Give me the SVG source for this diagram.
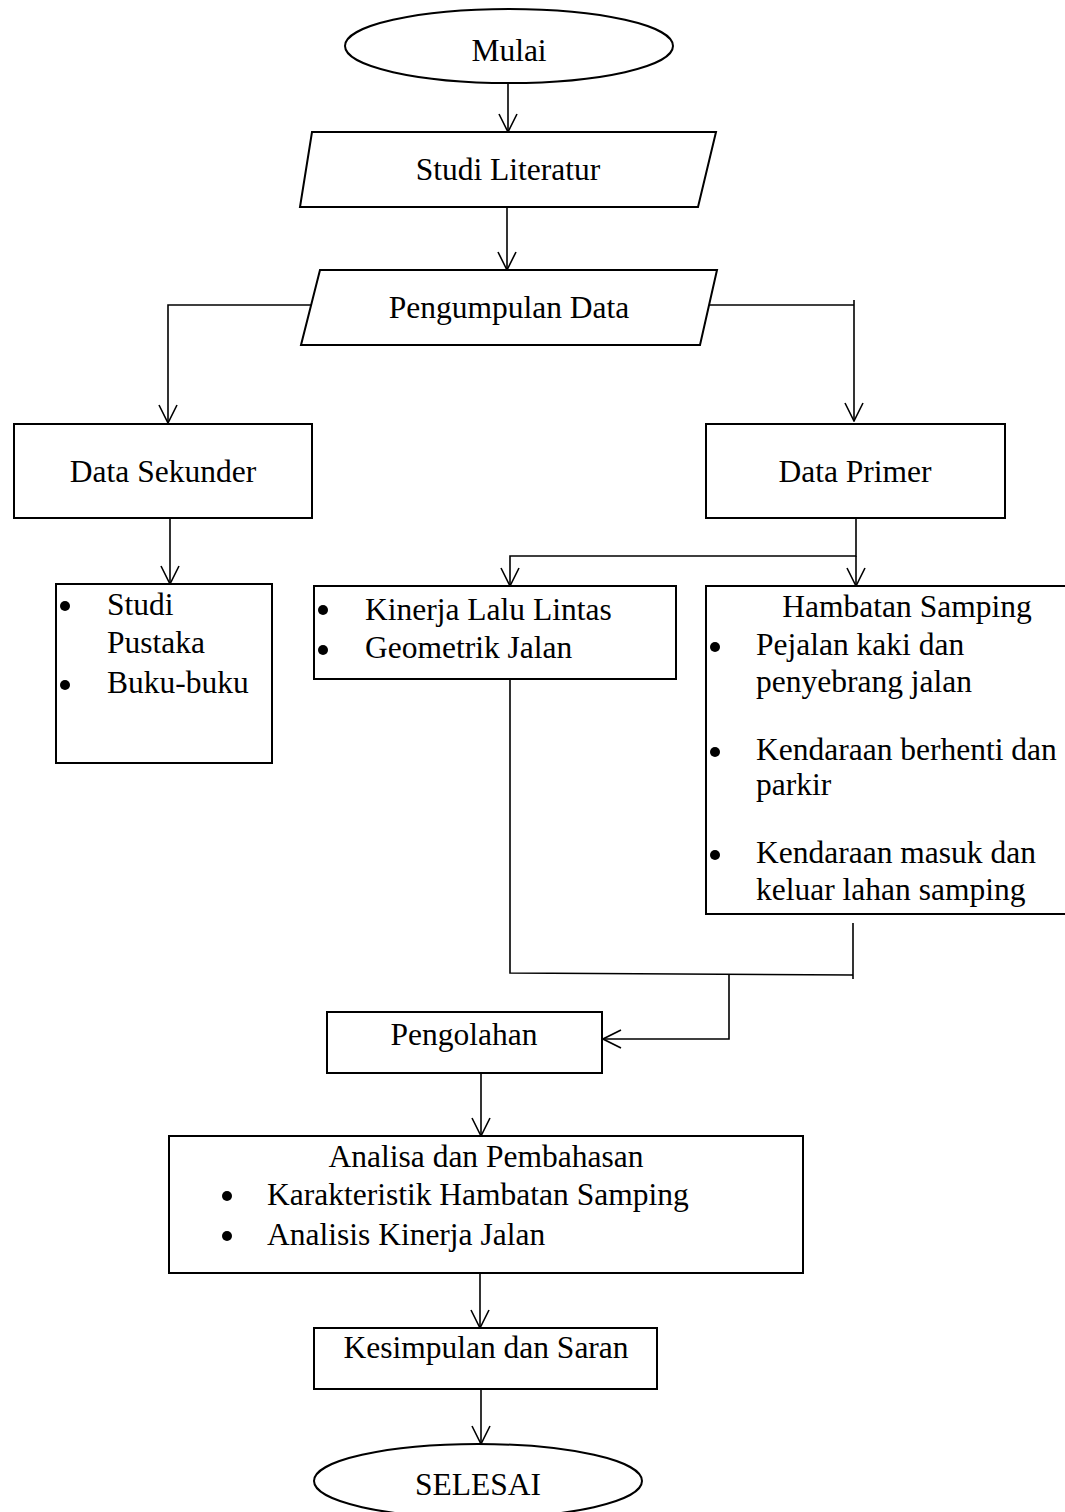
<svg xmlns="http://www.w3.org/2000/svg" width="1065" height="1512" viewBox="0 0 1065 1512">
<style>
.shape{fill:#fff;stroke:#000;stroke-width:2}
.c{fill:none;stroke:#000;stroke-width:1.6}
text{font-family:"Liberation Serif","Times New Roman",serif;font-size:31.5px;fill:#000}
.m{text-anchor:middle}
.b{fill:#000}
</style>
<defs>
<marker id="arr" viewBox="0 0 20 20" refX="19" refY="10" markerWidth="20" markerHeight="20" orient="auto" markerUnits="userSpaceOnUse">
<path d="M1,1 L19,10 L1,19" fill="none" stroke="#000" stroke-width="1.6"/>
</marker>
</defs>
<rect width="1065" height="1512" fill="#fff"/>
<g id="connectors">
<path class="c" d="M508,83 V132" marker-end="url(#arr)"/>
<path class="c" d="M507,207 V270" marker-end="url(#arr)"/>
<path class="c" d="M311,305 H168 V423" marker-end="url(#arr)"/>
<path class="c" d="M709,305 H854"/>
<path class="c" d="M854,300 V421" marker-end="url(#arr)"/>
<path class="c" d="M170,518 V584" marker-end="url(#arr)"/>
<path class="c" d="M856,518 V556 H510 V586" marker-end="url(#arr)"/>
<path class="c" d="M856,556 V586" marker-end="url(#arr)"/>
<path class="c" d="M510,679 V973 L853,975"/>
<path class="c" d="M853,923 V979"/>
<path class="c" d="M729,975 V1039 H603" marker-end="url(#arr)"/>
<path class="c" d="M481,1073 V1136" marker-end="url(#arr)"/>
<path class="c" d="M480,1273 V1328" marker-end="url(#arr)"/>
<path class="c" d="M481,1389 V1444" marker-end="url(#arr)"/>
</g>
<g id="mulai">
<ellipse class="shape" cx="509" cy="46" rx="164" ry="37"/>
<text class="m" x="509" y="61">Mulai</text>
</g>
<g id="studi-literatur">
<polygon class="shape" points="312,132 716,132 698,207 300,207"/>
<text class="m" x="508" y="180">Studi Literatur</text>
</g>
<g id="pengumpulan-data">
<polygon class="shape" points="320,270 717,270 700,345 301,345"/>
<text class="m" x="509" y="318">Pengumpulan Data</text>
</g>
<g id="data-sekunder">
<rect class="shape" x="14" y="424" width="298" height="94"/>
<text class="m" x="163" y="482">Data Sekunder</text>
</g>
<g id="data-primer">
<rect class="shape" x="706" y="424" width="299" height="94"/>
<text class="m" x="855" y="482">Data Primer</text>
</g>
<g id="studi-pustaka">
<rect class="shape" x="56" y="584" width="216" height="179"/>
<circle class="b" cx="65" cy="606" r="5"/>
<circle class="b" cx="65" cy="685" r="5"/>
<text x="107" y="615">Studi</text>
<text x="107" y="653">Pustaka</text>
<text x="107" y="693">Buku-buku</text>
</g>
<g id="kinerja">
<rect class="shape" x="314" y="586" width="362" height="93"/>
<circle class="b" cx="323" cy="610" r="5"/>
<circle class="b" cx="323" cy="650" r="5"/>
<text x="365" y="620">Kinerja Lalu Lintas</text>
<text x="365" y="658">Geometrik Jalan</text>
</g>
<g id="hambatan-samping">
<rect class="shape" x="706" y="586" width="370" height="328"/>
<text class="m" x="907" y="617">Hambatan Samping</text>
<circle class="b" cx="715" cy="647" r="5"/>
<circle class="b" cx="715" cy="752" r="5"/>
<circle class="b" cx="715" cy="855" r="5"/>
<text x="756" y="655">Pejalan kaki dan</text>
<text x="756" y="692">penyebrang jalan</text>
<text x="756" y="760">Kendaraan berhenti dan</text>
<text x="756" y="795">parkir</text>
<text x="756" y="863">Kendaraan masuk dan</text>
<text x="756" y="900">keluar lahan samping</text>
</g>
<g id="pengolahan">
<rect class="shape" x="327" y="1012" width="275" height="61"/>
<text class="m" x="464" y="1045">Pengolahan</text>
</g>
<g id="analisa">
<rect class="shape" x="169" y="1136" width="634" height="137"/>
<text class="m" x="486" y="1167">Analisa dan Pembahasan</text>
<circle class="b" cx="227" cy="1196" r="5"/>
<circle class="b" cx="227" cy="1236" r="5"/>
<text x="267" y="1205">Karakteristik Hambatan Samping</text>
<text x="267" y="1245">Analisis Kinerja Jalan</text>
</g>
<g id="kesimpulan">
<rect class="shape" x="314" y="1328" width="343" height="61"/>
<text class="m" x="486" y="1358">Kesimpulan dan Saran</text>
</g>
<g id="selesai">
<ellipse class="shape" cx="478" cy="1481" rx="164" ry="37"/>
<text class="m" x="478" y="1495">SELESAI</text>
</g>
</svg>
